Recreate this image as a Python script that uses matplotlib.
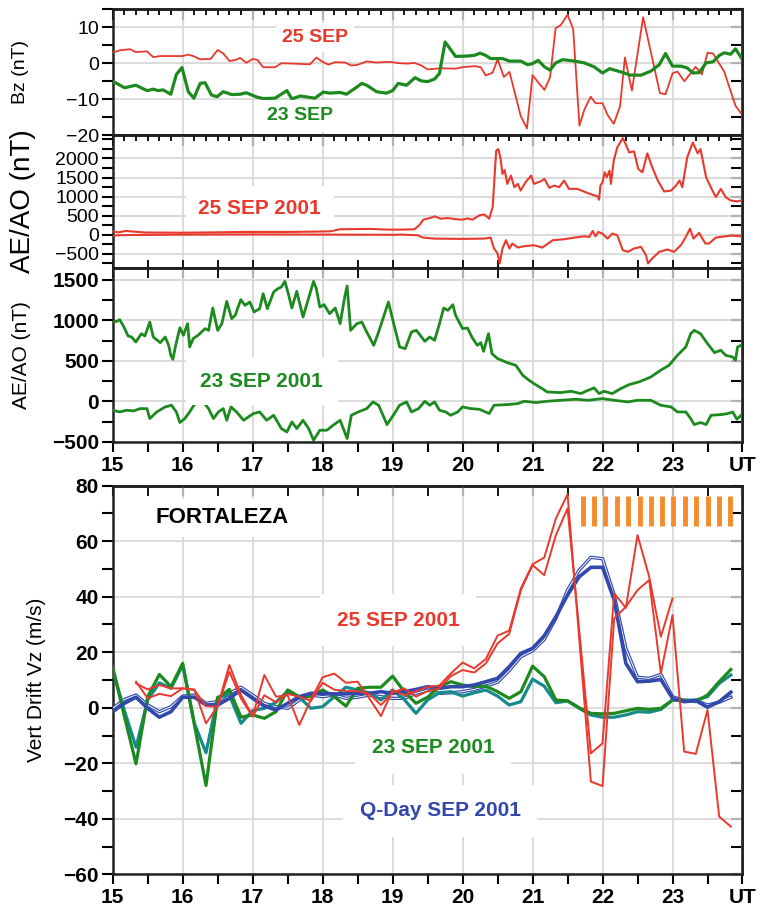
import numpy as np
import matplotlib
matplotlib.use('Agg')
import matplotlib.pyplot as plt
from matplotlib import font_manager as fm
from matplotlib.ticker import MultipleLocator, FixedLocator

names = {f.name for f in fm.fontManager.ttflist}
NARROW = 'Liberation Sans Narrow' if 'Liberation Sans Narrow' in names else 'Liberation Sans'
SANS = 'Liberation Sans'
plt.rcParams['font.family'] = [SANS, 'DejaVu Sans']

RED = '#e8392c'
GREEN = '#1c8a1e'
TEAL = '#168a8c'
BLUE = '#3348ad'
ORANGE = '#f58b2d'
GRID = '#d6d6d6'

# ---------------- Panel 1: Bz ----------------
bz25_t = [15.0, 15.1, 15.25, 15.33, 15.49, 15.58, 15.68, 15.84, 16.0, 16.08, 16.15, 16.25, 16.4, 16.5,
          16.58, 16.67, 16.77, 16.82, 16.91, 17.0, 17.07, 17.15, 17.32, 17.41, 17.58, 17.82, 17.91, 17.99,
          18.08, 18.18, 18.32, 18.41, 18.49, 18.63, 18.77, 18.96, 19.1, 19.22, 19.31, 19.41, 19.5, 19.69,
          19.9, 20.0, 20.17, 20.26, 20.33, 20.43, 20.5, 20.59, 20.67, 20.83, 20.92, 21.0, 21.1, 21.17,
          21.25, 21.33, 21.4, 21.5, 21.58, 21.67, 21.74, 21.83, 21.9, 22.0, 22.07, 22.16, 22.25, 22.32,
          22.42, 22.58, 22.82, 22.9, 23.0, 23.07, 23.17, 23.33, 23.42, 23.5, 23.58, 23.74, 23.9, 23.98]
bz25_v = [2.9, 3.6, 3.9, 3.1, 3.3, 1.7, 2.0, 2.0, 2.0, 2.4, 2.0, 1.1, 1.2, 3.7,
          2.7, 0.6, 1.0, 1.5, 0.1, 1.2, 0.9, -1.1, -1.1, 0.0, -0.1, -0.3, 1.6, 0.5,
          -0.4, 0.3, 0.2, -0.6, -0.5, 0.5, 0.2, 0.4, 0.0, -0.1, 0.1, -0.6, -1.7, -1.4,
          -1.5, -1.1, -0.8, -1.1, -3.4, -2.6, 1.1, -3.8, -2.4, -14.6, -18.1, -3.3, -5.8, -7.4,
          -3.9, 9.8, 10.5, 13.5, 9.5, -17.3, -12.9, -9.3, -11.1, -11.1, -14.3, -16.8, -12.0, 1.6,
          -7.6, 12.8, -8.3, -8.6, -2.8, -2.3, -5.0, -1.0, -3.1, 2.9, 2.7, -2.4, -11.8, -13.9]

bz23_t = [15.0, 15.17, 15.33, 15.49, 15.58, 15.65, 15.72, 15.83, 15.91, 15.99, 16.08, 16.16, 16.25, 16.32,
          16.41, 16.49, 16.58, 16.7, 16.82, 16.91, 17.06, 17.15, 17.32, 17.49, 17.56, 17.68, 17.89, 18.01,
          18.1, 18.25, 18.34, 18.46, 18.56, 18.63, 18.77, 18.91, 19.0, 19.08, 19.2, 19.32, 19.41, 19.5,
          19.6, 19.67, 19.75, 19.9, 20.07, 20.17, 20.25, 20.33, 20.4, 20.57, 20.67, 20.83, 20.93, 21.0,
          21.08, 21.17, 21.25, 21.33, 21.43, 21.6, 21.74, 21.88, 22.0, 22.1, 22.26, 22.4, 22.55, 22.69,
          22.81, 22.9, 23.0, 23.12, 23.21, 23.29, 23.38, 23.48, 23.58, 23.67, 23.74, 23.83, 23.9, 23.98]
bz23_v = [-5.0, -6.8, -6.1, -7.6, -7.2, -7.6, -7.4, -8.6, -3.1, -1.2, -7.9, -9.7, -5.6, -5.4,
          -8.8, -9.3, -7.9, -8.7, -8.6, -8.2, -9.4, -9.8, -9.7, -7.6, -9.9, -9.1, -9.7, -8.0,
          -8.3, -8.1, -8.6, -7.0, -5.6, -6.1, -7.9, -8.3, -7.6, -5.6, -6.1, -4.0, -4.9, -5.1,
          -4.4, -2.8, 5.9, 1.9, 2.0, 2.2, 2.8, 2.2, 1.3, 1.3, 0.6, 0.6, -0.4, -0.1,
          0.8, -1.0, -1.9, 0.1, 1.0, 0.6, 0.1, -1.0, -2.7, -1.5, -2.4, -3.3, -3.3, -2.2,
          -0.4, 2.7, -0.8, -0.8, -1.3, -2.7, -2.6, 0.1, 0.4, 2.2, 2.9, 2.5, 4.0, 1.6]

# ---------------- Panel 2: AE/AO 25 SEP 2001 ----------------
ae25_t = [15.0, 15.08, 15.19, 15.47, 16.02, 16.5, 16.86, 17.55, 18.1, 18.25, 18.67, 18.94, 19.12, 19.31,
          19.38, 19.44, 19.55, 19.6, 19.69, 19.79, 19.88, 20.0, 20.07, 20.14, 20.24, 20.31, 20.38, 20.43,
          20.48, 20.51, 20.54, 20.57, 20.6, 20.64, 20.69, 20.74, 20.79, 20.83, 20.9, 20.98, 21.02, 21.12,
          21.17, 21.24, 21.31, 21.38, 21.45, 21.52, 21.64, 21.79, 21.93, 21.95, 21.97, 22.0, 22.03, 22.06,
          22.1, 22.12, 22.16, 22.21, 22.29, 22.33, 22.38, 22.45, 22.51, 22.57, 22.64, 22.71, 22.79, 22.88,
          22.98, 23.05, 23.1, 23.14, 23.21, 23.29, 23.36, 23.4, 23.48, 23.57, 23.62, 23.69, 23.76, 23.83,
          23.93, 23.98]
ae25_v = [85, 60, 95, 55, 50, 60, 70, 70, 85, 140, 150, 131, 131, 139,
          244, 392, 444, 479, 418, 436, 409, 392, 427, 392, 505, 531, 418, 723,
          2204, 2247, 2029, 1594, 1698, 1333, 1550, 1245, 1333, 1158, 1376, 1550, 1333, 1402,
          1463, 1228, 1289, 1245, 1420, 1202, 1202, 1089, 1002, 915, 1289, 1376, 1637, 1507,
          1681, 1333, 1942, 2291, 2535, 2378, 2160, 2186, 1725, 1637, 2134, 1768, 1420, 1132,
          1158, 1289, 1420, 1245, 2029, 2421, 2134, 2247, 1507, 1158, 984, 1202, 984, 897,
          871, 897]
ao25_t = [15.0, 15.1, 15.3, 16.0, 17.0, 18.0, 19.0, 19.12, 19.36, 19.43, 19.6, 20.0, 20.31, 20.4,
          20.45, 20.5, 20.53, 20.57, 20.62, 20.67, 20.71, 20.79, 20.88, 21.02, 21.14, 21.29, 21.45, 21.6,
          21.74, 21.81, 21.86, 21.9, 21.94, 22.0, 22.07, 22.14, 22.21, 22.29, 22.36, 22.45, 22.55, 22.62,
          22.65, 22.71, 22.81, 22.93, 23.02, 23.12, 23.19, 23.25, 23.3, 23.38, 23.47, 23.52, 23.62, 23.69,
          23.83, 23.98]
ao25_v = [-30, -15, -10, 0, 5, 0, -5, 0, -17, -78, -105, -113, -105, -78,
          -366, -497, -758, -366, -148, -366, -235, -340, -305, -279, -340, -148, -122, -78,
          -44, -61, 96, -44, 70, 26, -105, 26, -17, -409, -453, -366, -322, -540,
          -758, -627, -453, -392, -453, -279, -61, 157, -105, 44, -235, -235, -78, -61,
          -26, -44]

# ---------------- Panel 3: AE/AO 23 SEP 2001 ----------------
ae23_t = [15.0, 15.06, 15.1, 15.16, 15.22, 15.27, 15.33, 15.41, 15.46, 15.53, 15.58, 15.68, 15.75, 15.8,
          15.83, 15.86, 15.9, 15.96, 16.01, 16.07, 16.1, 16.15, 16.22, 16.32, 16.37, 16.43, 16.5, 16.56,
          16.63, 16.7, 16.75, 16.83, 16.89, 16.96, 17.02, 17.1, 17.15, 17.21, 17.3, 17.36, 17.41, 17.46,
          17.51, 17.56, 17.63, 17.72, 17.87, 17.91, 17.96, 18.02, 18.1, 18.18, 18.25, 18.32, 18.35, 18.4,
          18.49, 18.56, 18.63, 18.73, 18.8, 18.94, 19.01, 19.1, 19.18, 19.27, 19.34, 19.46, 19.53, 19.6,
          19.67, 19.73, 19.79, 19.86, 19.9, 20.0, 20.07, 20.14, 20.21, 20.26, 20.3, 20.37, 20.42, 20.5,
          20.64, 20.76, 20.86, 20.95, 21.02, 21.12, 21.21, 21.4, 21.55, 21.69, 21.76, 21.88, 21.95, 22.02,
          22.14, 22.26, 22.38, 22.52, 22.69, 22.83, 22.95, 23.07, 23.19, 23.26, 23.31, 23.4, 23.5, 23.6,
          23.69, 23.76, 23.86, 23.9, 23.93, 23.98]
ae23_v = [979, 988, 1008, 918, 807, 794, 732, 835, 807, 979, 794, 724, 794, 691,
          568, 518, 691, 909, 815, 959, 671, 774, 815, 897, 876, 1152, 876, 959,
          1234, 1021, 1062, 1255, 1185, 1226, 1103, 1144, 1329, 1144, 1350, 1391, 1411, 1481,
          1329, 1152, 1358, 1041, 1481, 1391, 1164, 1193, 1082, 1152, 959, 1309, 1424, 876,
          959, 979, 856, 691, 856, 1226, 979, 671, 650, 856, 876, 741, 794, 753,
          959, 1152, 1123, 1193, 1062, 897, 905, 782, 691, 724, 617, 835, 588, 527,
          477, 444, 321, 259, 218, 165, 115, 107, 123, 95, 123, 165, 95, 123,
          95, 156, 206, 239, 300, 383, 444, 568, 671, 835, 876, 835, 712, 601,
          630, 568, 547, 506, 671, 691]
ao23_t = [15.0, 15.1, 15.2, 15.3, 15.39, 15.49, 15.53, 15.63, 15.75, 15.84, 15.91, 15.96, 16.03, 16.1,
          16.16, 16.22, 16.3, 16.37, 16.44, 16.51, 16.58, 16.63, 16.69, 16.77, 16.87, 17.01, 17.1, 17.2,
          17.3, 17.41, 17.49, 17.56, 17.63, 17.72, 17.8, 17.87, 17.96, 18.06, 18.15, 18.25, 18.35, 18.41,
          18.51, 18.63, 18.72, 18.8, 18.92, 19.01, 19.1, 19.2, 19.27, 19.37, 19.46, 19.53, 19.6, 19.67,
          19.76, 19.83, 19.93, 20.0, 20.12, 20.24, 20.38, 20.45, 20.64, 20.79, 20.88, 21.05, 21.21, 21.4,
          21.62, 21.79, 22.0, 22.17, 22.36, 22.5, 22.69, 22.83, 22.98, 23.07, 23.19, 23.26, 23.31, 23.4,
          23.48, 23.55, 23.69, 23.79, 23.86, 23.92, 23.98]
ao23_v = [-111, -132, -111, -119, -91, -91, -214, -132, -70, -49, -132, -263, -214, -132,
          -49, 12, -16, -91, -214, -132, -91, -235, -70, -132, -235, -152, -132, -235,
          -173, -337, -379, -255, -337, -235, -337, -481, -358, -358, -296, -235, -461, -173,
          -132, -91, -8, -49, -288, -173, -49, -8, -132, -91, 0, -49, -8, -111,
          -132, -173, -132, -70, -91, -99, -152, -49, -41, -29, 0, -16, 0, 12,
          25, 12, 33, 12, -8, 12, 12, -49, -70, -132, -132, -214, -288, -263,
          -288, -173, -165, -152, -132, -222, -173]

# ---------------- Panel 4: vertical drift, Fortaleza (10-min samples) ----------------
drift_t = 15.0 + np.arange(54) / 6.0
n = np.nan
vz25_a = [n, n, 9.4, 3.4, 5.0, 4.2, 7.0, 6.6, -5.6, 0.5, 15.4, 4.6, -3.0, 11.8, 4.0, 4.5, -6.2, 3.0,
          11.0, 12.3, 9.0, 9.4, 3.4, -3.0, 6.4, 4.5, 6.0, 7.5, 8.0, 12.4, 16.3, 14.2, 17.6, 26.0,
          27.8, 43.0, 51.7, 54.1, 68.2, 76.9, 25.0, -26.6, -28.2, 32.2, 36.4, 42.4, 46.0, 12.4, 33.4,
          -15.8, -16.6, -0.8, -39.2, -42.8]
vz25_b = [n, n, 8.8, 6.6, 8.2, 7.0, 7.0, 6.4, 0.6, 0.4, 13.0, 3.4, -3.2, 4.5, 2.0, 5.0, 4.0, 2.5,
          9.0, 6.5, 6.0, 6.0, 5.0, 1.0, 5.5, 7.0, 4.0, 6.0, 7.0, 11.4, 13.6, 12.7, 16.0, 23.2,
          26.6, 42.4, 51.4, 47.8, 62.2, 71.8, 28.0, -16.4, -12.8, 41.2, 36.0, 62.2, 47.2, 25.6, 39.4,
          n, n, n, n, n]
vz23_a = [14.8, -3.0, -20.2, 4.0, 12.0, 7.6, 16.0, -6.0, -28.0, 3.4, 6.6, -3.4, -2.6, -3.8, -1.4, 6.4,
          4.0, 4.0, 6.4, 4.0, 0.6, 7.0, 7.4, 7.4, 11.4, 5.8, 1.6, 3.8, 7.6, 9.4, 8.2, 7.6, 7.8, 5.8,
          3.4, 5.8, 15.0, 11.2, 2.8, 2.5, 0.0, -2.0, -2.2, -2.0, -1.1, -0.2, -0.6, -0.2, 2.8, 2.8,
          2.2, 4.6, 9.4, 13.8]
vz23_b = [13.6, -1.0, -14.2, 2.8, 9.0, 7.0, 15.4, -5.6, -16.2, 3.8, 4.6, -5.6, -1.0, -0.2, 2.0, 6.0,
          3.8, -0.2, 0.4, 4.0, 7.4, 6.4, 5.4, 2.8, 6.4, 3.0, -2.0, 2.8, 5.4, 5.8, 4.2, 5.4, 6.4, 4.2,
          1.0, 2.2, 10.3, 7.8, 1.8, 2.5, -0.2, -2.6, -3.4, -3.4, -2.6, -1.4, -1.6, -0.6, 2.8, 2.6,
          2.8, 4.0, 8.8, 11.8]
vzq_a = [-1.4, 1.6, 3.8, -0.2, -3.4, -1.4, 3.8, 3.8, 1.0, 1.0, 3.4, 6.4, 3.4, 0.6, -0.8, 1.6,
         4.0, 5.2, 5.2, 5.0, 5.0, 5.2, 5.2, 5.8, 5.2, 5.8, 6.6, 7.6, 7.0, 7.6, 7.6, 8.2, 9.4, 10.6,
         14.8, 19.6, 21.4, 25.9, 32.8, 40.6, 47.2, 50.6, 50.6, 38.8, 16.0, 9.4, 9.6, 10.2, 3.4, 2.2,
         2.6, 0.2, 2.2, 5.6]
vzq_b = [-0.2, 3.0, 4.6, 1.0, -1.4, 0.4, 4.2, 4.6, 1.6, 2.2, 5.2, 7.4, 4.6, 1.6, 0.4, -0.2,
         2.8, 4.6, 4.0, 4.6, 3.4, 3.8, 4.6, 4.0, 3.4, 3.4, 5.2, 6.4, 5.2, 5.4, 5.8, 6.6, 7.8, 9.2,
         13.4, 18.4, 20.5, 24.6, 32.2, 42.4, 49.6, 54.2, 53.7, 40.6, 21.4, 11.0, 10.6, 12.0, 4.0, 2.6,
         2.6, 1.0, 2.0, 3.8]
spread_f_t = [21.72, 21.88, 22.04, 22.20, 22.37, 22.53, 22.69, 22.85, 23.01, 23.18, 23.34, 23.50, 23.66, 23.82]
spread_f_range = (65.5, 76.3)

hour_ticks = list(range(15, 25))
hour_labels = [str(h) for h in range(15, 24)] + ['UT']

# ---------------- Figure ----------------
fig = plt.figure(figsize=(7.62, 9.14), dpi=100)
L, W = 0.1479, 0.8265
ax1 = fig.add_axes([L, 0.8520, W, 0.1379])
ax2 = fig.add_axes([L, 0.7071, W, 0.1449])
ax3 = fig.add_axes([L, 0.5167, W, 0.1904])
ax4 = fig.add_axes([L, 0.0434, W, 0.4252])


def style(ax, ylim, ymaj, ymin_step, ylabels_bold, top_minor, bottom_mode, lab_size):
    ax.set_xlim(15, 24)
    ax.set_ylim(*ylim)
    for s in ax.spines.values():
        s.set_linewidth(1.8)
        s.set_color('#222222')
    ax.set_axisbelow(True)
    ax.xaxis.set_major_locator(FixedLocator(hour_ticks))
    ax.yaxis.set_major_locator(MultipleLocator(ymaj))
    ax.grid(True, which='major', color=GRID, lw=1.2)
    ax.yaxis.set_minor_locator(MultipleLocator(ymin_step))
    ax.tick_params(axis='y', which='both', direction='out', left=True, right=False,
                   length=8, width=1.5, pad=2)
    sec = ax.secondary_yaxis('right')
    sec.yaxis.set_major_locator(MultipleLocator(ymin_step))
    sec.tick_params(axis='y', direction='in', length=8, width=1.5, labelright=False)
    sec.spines['right'].set_linewidth(1.8)
    top = ax.secondary_xaxis('top')
    top.xaxis.set_major_locator(FixedLocator(hour_ticks))
    top.xaxis.set_minor_locator(MultipleLocator(top_minor))
    top.tick_params(axis='x', which='major', direction='in', length=8 if top_minor < 0.4 else 7,
                    width=1.5, labeltop=False)
    top.tick_params(axis='x', which='minor', direction='in', length=4 if top_minor < 0.4 else 7,
                    width=1.3)
    top.spines['top'].set_linewidth(1.8)
    ax.xaxis.set_minor_locator(MultipleLocator(0.5))
    if bottom_mode == 'labels':
        ax.tick_params(axis='x', which='both', direction='out', length=7, width=1.5,
                       bottom=True, top=False, pad=3)
        ax.set_xticklabels(hour_labels)
    elif bottom_mode == 'in':
        ax.tick_params(axis='x', which='both', direction='in', length=6, width=1.3,
                       bottom=True, top=False, labelbottom=False)
    else:
        ax.tick_params(axis='x', which='both', bottom=False, top=False, labelbottom=False)
    for lab in ax.get_yticklabels():
        lab.set_fontfamily(NARROW)
        lab.set_fontsize(lab_size)
        lab.set_fontweight('bold' if ylabels_bold else 'normal')
    for lab in ax.get_xticklabels():
        lab.set_fontfamily(NARROW)
        lab.set_fontsize(15)
        lab.set_fontweight('bold')


# Panel 1
ax1.plot(bz25_t, bz25_v, color=RED, lw=1.3, zorder=3)
ax1.plot(bz23_t, bz23_v, color=GREEN, lw=2.3, zorder=3)
style(ax1, (-20, 15), 10, 5, False, 1 / 6, 'none', 14)
ax1.set_ylabel('Bz (nT)', fontsize=14, fontfamily=SANS)
ax1.yaxis.set_label_coords(-0.133, 0.5)

# Panel 2
ax2.plot(ae25_t, ae25_v, color=RED, lw=1.5, zorder=3)
ax2.plot(ao25_t, ao25_v, color=RED, lw=1.5, zorder=3)
style(ax2, (-870, 2610), 500, 250, False, 1 / 6, 'in', 14)
ax2.set_yticks([-500, 0, 500, 1000, 1500, 2000])
for lab in ax2.get_yticklabels():
    lab.set_fontfamily(NARROW)
    lab.set_fontsize(14)
ax2.set_ylabel('AE/AO (nT)', fontsize=20, fontfamily=SANS)
ax2.yaxis.set_label_coords(-0.121, 0.5)

# Panel 3
ax3.plot(ae23_t, ae23_v, color=GREEN, lw=2.0, zorder=3)
ax3.plot(ao23_t, ao23_v, color=GREEN, lw=2.0, zorder=3)
style(ax3, (-500, 1650), 500, 250, True, 0.5, 'labels', 15)
ax3.set_ylabel('AE/AO (nT)', fontsize=15, fontfamily=SANS)
ax3.yaxis.set_label_coords(-0.13, 0.5)

# Panel 4
ax4.plot(drift_t, vzq_b, color=BLUE, lw=2.4, zorder=3, solid_joinstyle='round')
ax4.plot(drift_t, vzq_b, color='white', lw=0.7, zorder=3.05)
ax4.plot(drift_t, vz23_b, color=TEAL, lw=2.3, zorder=3.1)
ax4.plot(drift_t, vz23_a, color=GREEN, lw=2.3, zorder=3.2)
ax4.plot(drift_t, vzq_a, color=BLUE, lw=2.6, zorder=3.3)
ax4.plot(drift_t, vz25_b, color=RED, lw=1.4, zorder=3.4)
ax4.plot(drift_t, vz25_a, color=RED, lw=1.4, zorder=3.5)
ax4.vlines(spread_f_t, spread_f_range[0], spread_f_range[1], color=ORANGE, lw=3.5, zorder=3)
style(ax4, (-60, 80), 20, 10, True, 0.5, 'labels', 15)
ax4.set_ylabel('Vert Drift Vz (m/s)', fontsize=15, fontfamily=SANS)
ax4.yaxis.set_label_coords(-0.106, 0.5)


def label(ax, x, y, s, color, size, pad=0.5):
    ax.text(x, y, s, color=color, fontsize=size, fontweight='bold', fontfamily=SANS,
            ha='center', va='center', zorder=6,
            bbox=dict(boxstyle='square,pad=%s' % pad, fc='white', ec='none'))


label(ax1, 17.89, 7.2, '25 SEP', RED, 14, 0.3)
label(ax1, 17.68, -14.6, '23 SEP', GREEN, 14, 0.4)
label(ax2, 17.1, 688, '25 SEP 2001', RED, 15, 0.6)
label(ax3, 17.13, 247, '23 SEP 2001', GREEN, 15, 0.7)
label(ax4, 16.56, 68.4, 'FORTALEZA', 'black', 16, 0.4)
label(ax4, 19.08, 31.6, '25 SEP 2001', RED, 15, 0.8)
label(ax4, 19.58, -14.3, '23 SEP 2001', GREEN, 15, 0.8)
label(ax4, 19.68, -37.1, 'Q-Day SEP 2001', BLUE, 15, 0.8)

fig.savefig('out.png', dpi=100)
